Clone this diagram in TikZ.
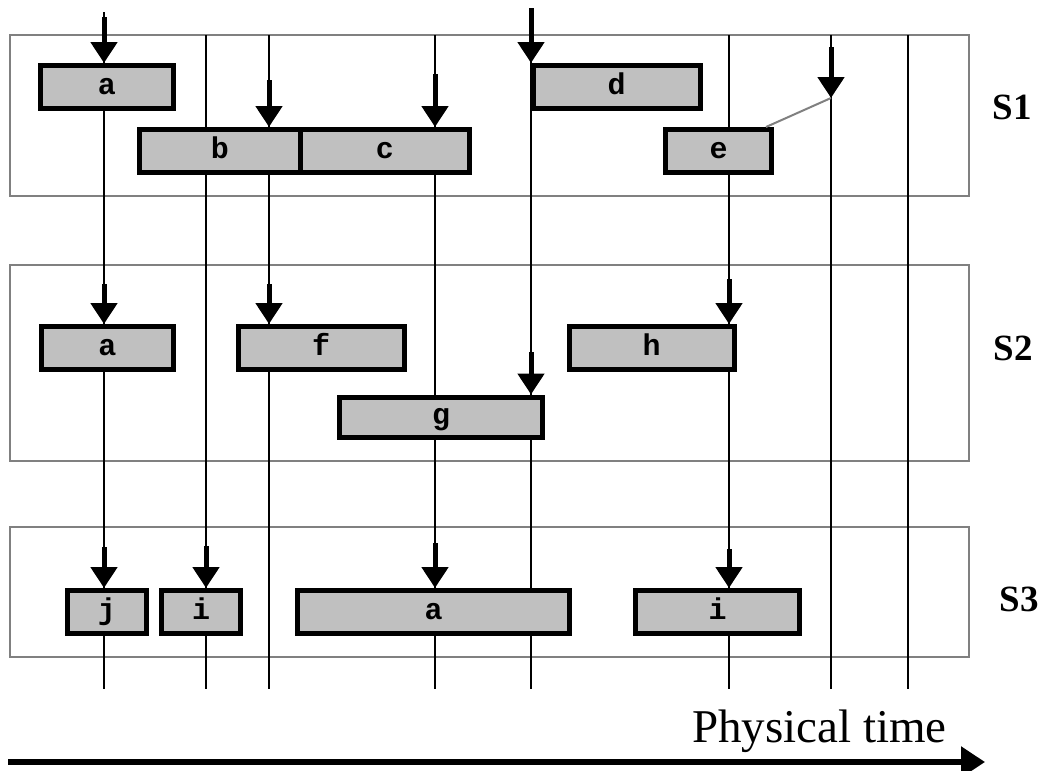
\documentclass[tikz,border=0pt]{standalone}
\usepackage{fontspec}
\setmainfont{Liberation Serif}
\newfontfamily\taskfont{Liberation Mono}
\usetikzlibrary{arrows.meta}
\definecolor{taskgray}{RGB}{192,192,192}
\definecolor{stagegray}{RGB}{128,128,128}

\begin{document}
\begin{tikzpicture}[x=1pt, y=-1pt,
    stage/.style={draw=stagegray, line width=2pt},
    timeline/.style={line width=1.8pt},
    task/.style={draw, line width=5pt, fill=taskgray, minimum height=43pt, inner sep=0pt,
      text height=14pt, text depth=0pt,
      font=\taskfont\fontsize{30}{32}\selectfont\bfseries},
    trigger/.style={line width=5pt, -{Triangle[length=21pt, width=26pt]}},
    stagelabel/.style={anchor=base, inner sep=0pt, font=\fontsize{37}{40}\selectfont\bfseries}]
        \useasboundingbox (0,0) rectangle (1042,771);
        % Stages
        \draw[stage] (9.5,35) rectangle (969,196);
        \draw[stage] (9.5,265) rectangle (969,461);
        \draw[stage] (9.5,527) rectangle (969,657);
        \node[stagelabel] (s1) at (1012,119) {S1};
        \node[stagelabel] (s2) at (1013,360) {S2};
        \node[stagelabel] (s3) at (1019,611) {S3};
        % Timelines
        \coordinate (t1) at (104,12);  \coordinate (e1) at (104,689);
        \coordinate (t2) at (206,35);  \coordinate (e2) at (206,689);
        \coordinate (t3) at (269,35);  \coordinate (e3) at (269,689);
        \coordinate (t4) at (435,35);  \coordinate (e4) at (435,689);
        \coordinate (t5) at (531,8);   \coordinate (e5) at (531,689);
        \coordinate (t6) at (729,35);  \coordinate (e6) at (729,689);
        \coordinate (t7) at (831,35);  \coordinate (e7) at (831,689);
        \coordinate (t8) at (908,35);  \coordinate (e8) at (908,689);
        \draw[timeline] (t1) -- (e1);
        \draw[timeline] (t2) -- (e2);
        \draw[timeline] (t3) -- (e3);
        \draw[timeline] (t4) -- (e4);
        \draw[timeline] (t5) -- (e5);
        \draw[timeline] (t6) -- (e6);
        \draw[timeline] (t7) -- (e7);
        \draw[timeline] (t8) -- (e8);
        % Tasks
        \node[task, minimum width=133pt] (a1) at (107,87) {a};
        \node[task, minimum width=160.5pt] (b) at (219.75,151) {b};
        \node[task, minimum width=169.5pt] (c) at (384.75,151) {c};
        \node[task, minimum width=167pt] (d) at (616.5,87) {d};
        \node[task, minimum width=106pt] (e) at (718.5,151) {e};
        \node[task, minimum width=132pt] (a2) at (107.5,348) {a};
        \node[task, minimum width=166pt] (f) at (321,348) {f};
        \node[task, minimum width=165pt] (h) at (651.5,348) {h};
        \node[task, minimum width=203pt, minimum height=40pt] (g) at (441,417) {g};
        \node[task, minimum width=79pt] (j) at (107,612) {j};
        \node[task, minimum width=79pt] (i1) at (201,612) {i};
        \node[task, minimum width=272pt] (a3) at (433.5,612) {a};
        \node[task, minimum width=164pt] (i2) at (717.5,612) {i};
        % Triggers
        \coordinate (pa1) at (104,17);
        \coordinate (pb) at (269,80);
        \coordinate (pc) at (435,74);
        \coordinate (pd) at (531,8);
        \coordinate (px) at (831,47);
        \coordinate (qx) at (831,98);
        \draw[trigger] (pa1) -- (pa1 |- a1.north);
        \draw[trigger] (pb) -- (pb |- b.north);
        \draw[trigger] (pc) -- (pc |- c.north);
        \draw[trigger] (pd) -- (pd |- d.north);
        \draw[trigger] (px) -- (qx);
        \draw[stagegray, line width=2pt] (qx) -- ([xshift=-8pt]e.north east);
        \coordinate (pa2) at (104,284);
        \coordinate (pf) at (269,284);
        \coordinate (pg) at (531,352);
        \coordinate (ph) at (729,279);
        \draw[trigger] (pa2) -- (pa2 |- a2.north);
        \draw[trigger] (pf) -- (pf |- f.north);
        \draw[trigger] (pg) -- (pg |- g.north);
        \draw[trigger] (ph) -- (ph |- h.north);
        \coordinate (pj) at (104,547);
        \coordinate (pi1) at (206,546);
        \coordinate (pa3) at (435,543);
        \coordinate (pi2) at (729,549);
        \draw[trigger] (pj) -- (pj |- j.north);
        \draw[trigger] (pi1) -- (pi1 |- i1.north);
        \draw[trigger] (pa3) -- (pa3 |- a3.north);
        \draw[trigger] (pi2) -- (pi2 |- i2.north);
        % Physical time axis
        \coordinate (axstart) at (8,762);
        \coordinate (axend) at (985,762);
        \draw[line width=5.5pt, -{Triangle[length=24pt, width=30pt]}] (axstart) -- (axend);
        \node[anchor=base west, inner sep=0pt, font=\fontsize{47}{50}\selectfont] (ptime) at (692,742) {Physical time};
    \end{tikzpicture}
\end{document}
